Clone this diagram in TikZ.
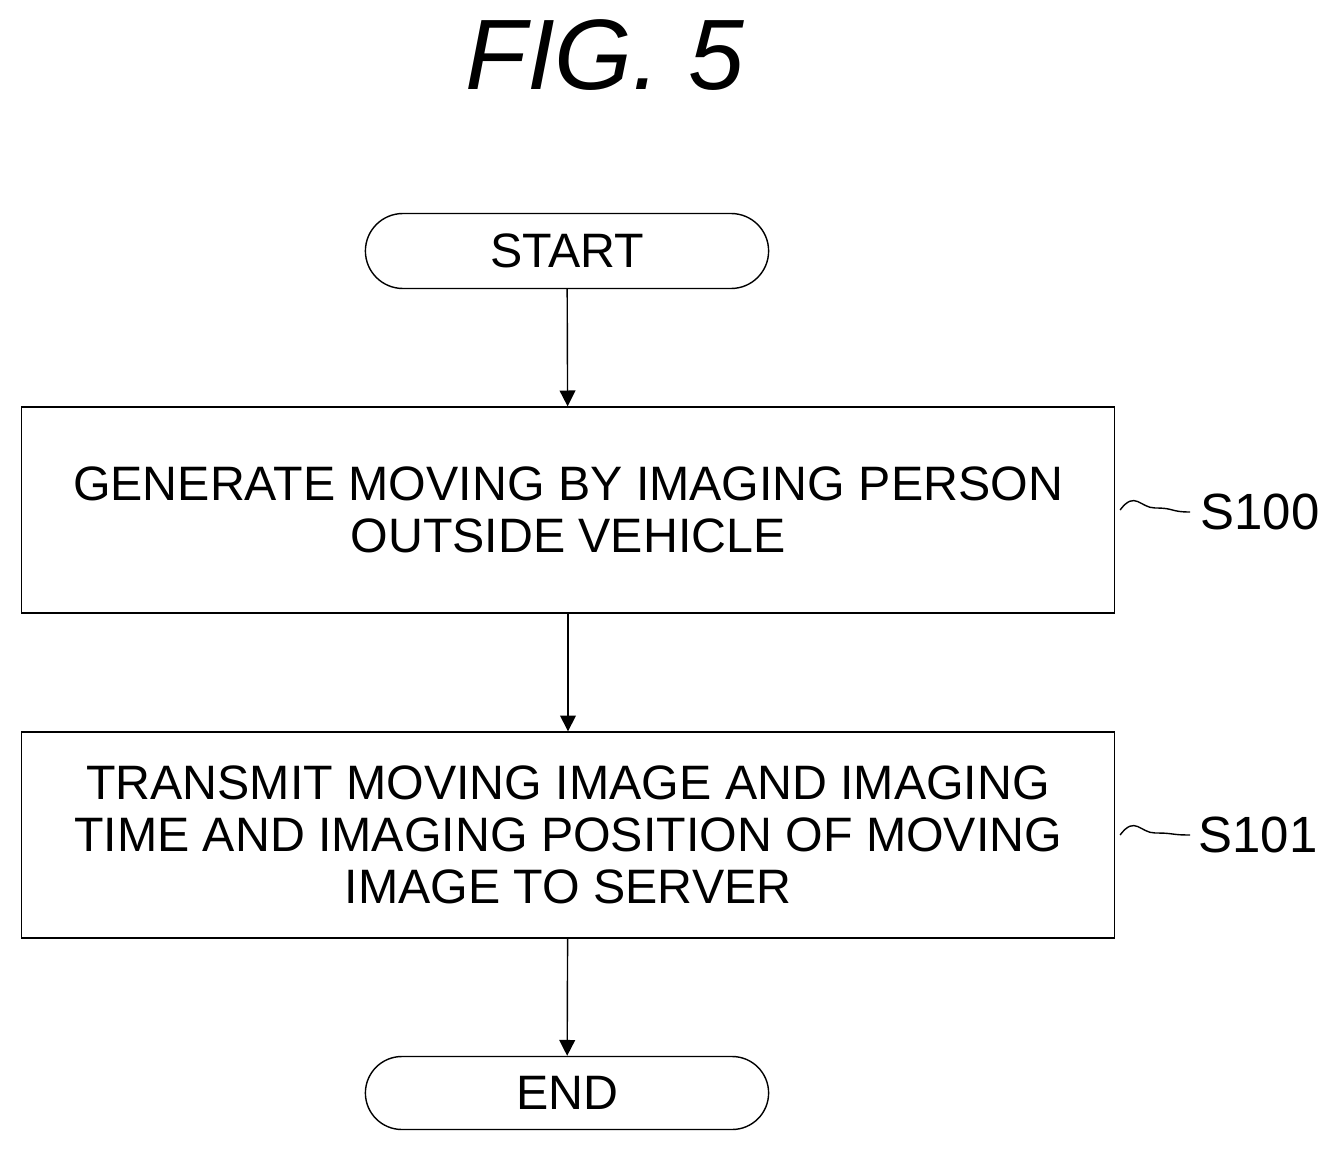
\documentclass[tikz,border=0pt]{standalone}
\usepackage{fontspec}
\setmainfont{Liberation Sans}
\usetikzlibrary{arrows.meta,shapes.misc}

\begin{document}
\begin{tikzpicture}[x=0.02cm,y=-0.02cm,
  txt/.style={font=\fontsize{27.5}{29.5}\selectfont},
  term/.style={rounded rectangle,draw,thick,minimum width=8.3cm,minimum height=1.5cm,txt},
  proc/.style={rectangle,draw,thick,minimum width=21.86cm,minimum height=4.12cm,align=center,inner sep=2pt,txt},
  arr/.style={-{Triangle[length=9pt,width=9pt]},thick}]
\useasboundingbox (0,0) rectangle (1335,1155);
\node [font=\fontsize{57}{57}\selectfont\itshape] (fig) at (605,55) {FIG. 5};
\node [term] (start) at (567,251) {START};
\node [proc] (s100) at (568,510) {GENERATE MOVING BY IMAGING PERSON\\OUTSIDE VEHICLE};
\node [proc] (s101) at (568,835) {TRANSMIT MOVING IMAGE AND IMAGING\\TIME AND IMAGING POSITION OF MOVING\\IMAGE TO SERVER};
\node [term,minimum height=1.46cm] (end) at (567,1093) {END};
\draw [arr] (start) -- (s100);
\draw [arr] (s100) -- (s101);
\draw [arr] (s101) -- (end);
% step labels
\node [txt,font=\fontsize{29}{29}\selectfont] (l100) at (1260,512) {S100};
\node [txt,font=\fontsize{29}{29}\selectfont] (l101) at (1258,835) {S101};
\draw [thick] (s100.east) ++(5,0) .. controls +(15,-20) and +(-15,0) .. +(35,-2) .. controls +(20,0) and +(-20,0) .. (1190,512);
\draw [thick] (s101.east) ++(5,0) .. controls +(15,-20) and +(-15,0) .. +(35,-2) .. controls +(20,0) and +(-20,0) .. (1190,835);
\end{tikzpicture}
\end{document}
